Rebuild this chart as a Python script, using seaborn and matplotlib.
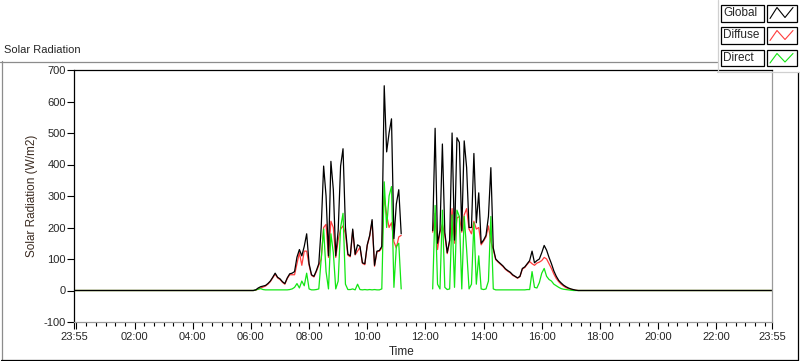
import numpy as np
import pandas as pd
import matplotlib.pyplot as plt
import seaborn as sns
from matplotlib.lines import Line2D
from matplotlib.patches import Rectangle

# samples every 5 min: morning block 06:00-11:10, afternoon block 12:15-17:15
am_start = 6.0
pm_start = 12.25
step_h = 5 / 60

global_am = [0, 0, 2, 8, 12, 14, 16, 22, 30, 42, 55, 42,
             37, 28, 22, 40, 53, 55, 60, 106, 130, 110, 140, 180,
             85, 50, 45, 63, 85, 200, 395, 300, 110, 410, 320, 110,
             190, 395, 450, 200, 115, 110, 195, 115, 145, 140, 88, 85,
             145, 175, 225, 80, 125, 127, 140, 650, 440, 500, 545, 165,
             275, 320, 180]
diffuse_am = [0, 0, 1, 5, 8, 11, 14, 20, 28, 40, 52, 40,
              35, 26, 20, 38, 50, 50, 50, 85, 120, 80, 125, 125,
              80, 48, 43, 60, 80, 100, 200, 210, 105, 220, 200, 105,
              160, 195, 205, 180, 112, 107, 190, 113, 125, 137, 86, 82,
              143, 172, 220, 77, 123, 125, 135, 300, 240, 200, 215, 155,
              135, 170, 175]
direct_am = [0, 0, 2, 4, 6, 3, 2, 2, 2, 2, 2, 2,
             2, 2, 2, 2, 3, 5, 10, 22, 8, 30, 15, 55,
             5, 2, 2, 3, 5, 100, 195, 60, 5, 180, 120, 5,
             30, 200, 245, 20, 3, 3, 5, 2, 20, 3, 2, 3,
             2, 3, 2, 3, 2, 2, 5, 345, 200, 300, 330, 10,
             140, 150, 5]

global_pm = [190, 515, 150, 190, 465, 185, 120, 160, 500,
             160, 485, 470, 190, 475, 390, 200, 200, 435, 215, 310, 150,
             160, 175, 235, 390, 135, 100, 92, 85, 78, 69, 63, 58,
             50, 45, 40, 45, 70, 75, 85, 95, 125, 88, 95, 100,
             120, 143, 128, 105, 85, 62, 45, 32, 24, 17, 12, 8,
             5, 3, 1, 0]
diffuse_pm = [185, 245, 130, 185, 210, 175, 117, 155, 260,
              150, 230, 235, 185, 240, 260, 195, 180, 220, 195, 200, 145,
              157, 170, 205, 155, 130, 98, 90, 83, 76, 67, 61, 56,
              48, 44, 39, 44, 68, 73, 83, 92, 85, 80, 87, 90,
              95, 105, 100, 85, 70, 52, 38, 28, 20, 14, 9, 6,
              4, 2, 1, 0]
direct_pm = [5, 270, 20, 5, 255, 10, 3, 5, 240,
             10, 255, 235, 5, 235, 130, 5, 20, 215, 20, 110, 5,
             3, 5, 30, 235, 5, 2, 2, 2, 2, 2, 2, 2,
             2, 2, 2, 2, 2, 2, 3, 3, 60, 10, 8, 25,
             55, 70, 45, 35, 30, 20, 15, 10, 6, 4, 3, 2,
             1, 0, 0, 0]

series_names = ['Global', 'Diffuse', 'Direct']
series_colors = {'Global': '#000000', 'Diffuse': '#ff3c3c', 'Direct': '#12e612'}
tick_labels = ['23:55', '', '02:00', '04:00', '06:00', '08:00', '10:00', '12:00',
               '14:00', '16:00', '18:00', '20:00', '22:00', '23:55']

# build long table, day starts at 23:55 the previous evening
t0 = -5 / 60
t1 = 24 - 5 / 60
t_am = am_start + np.arange(len(global_am)) * step_h
t_pm = pm_start + np.arange(len(global_pm)) * step_h
blocks = {'Global': (global_am, global_pm),
          'Diffuse': (diffuse_am, diffuse_pm),
          'Direct': (direct_am, direct_pm)}
frames = []
for name, (am, pm) in blocks.items():
    a = pd.DataFrame({'time': np.r_[t0, t_am], 'value': np.r_[0, am], 'seg': 0})
    b = pd.DataFrame({'time': np.r_[t_pm, t1], 'value': np.r_[pm, 0], 'seg': 1})
    d = pd.concat([a, b])
    d['series'] = name
    frames.append(d)
df = pd.concat(frames, ignore_index=True)

sns.set_style('white')
plt.rcParams['font.family'] = ['Liberation Sans', 'DejaVu Sans']
plt.rcParams['axes.unicode_minus'] = False

W, H = 800, 361
fig = plt.figure(figsize=(W / 100, H / 100), dpi=100)
ax = fig.add_axes([74 / W, 1 - 322 / H, (772 - 74) / W, (322 - 70) / H])

for name in ['Diffuse', 'Direct', 'Global']:
    sns.lineplot(data=df[df['series'] == name], x='time', y='value', units='seg',
                 estimator=None, sort=False, color=series_colors[name], lw=0.9,
                 ax=ax, legend=False)

ax.set_xlim(t0, t1)
ax.set_ylim(-100, 700)
ax.set_yticks(range(-100, 701, 100))
ax.set_xticks([t0, 0] + list(range(2, 23, 2)) + [t1])
ax.set_xticklabels(tick_labels)
ax.set_xticks(np.arange(0, 24, 1 / 3), minor=True)
ax.tick_params(axis='both', which='major', direction='out', length=5, width=0.8,
               labelsize=8, color='#000000', pad=2)
ax.tick_params(axis='x', which='minor', direction='out', length=3, width=0.8, color='#000000')
ax.tick_params(axis='y', pad=1)
ax.tick_params(axis='x', which='both', bottom=True)
ax.tick_params(axis='y', which='both', left=True)
ax.set_xlabel('Time', fontsize=8.5)
ax.set_ylabel('Solar Radiation (W/m2)', fontsize=8.5, color='#3a2a20', labelpad=4)
ax.xaxis.set_label_coords(0.47, -0.095)
for side in ['top', 'left']:
    ax.spines[side].set_color('#000000')
for side in ['right', 'bottom']:
    ax.spines[side].set_color('#9a9a9a')
for s in ax.spines.values():
    s.set_linewidth(0.9)


def px(x, y):
    return x / W, 1 - y / H


def fline(xs, ys, color, lw=0.9):
    pts = [px(x, y) for x, y in zip(xs, ys)]
    fig.add_artist(Line2D([p[0] for p in pts], [p[1] for p in pts],
                          transform=fig.transFigure, color=color, lw=lw))


# outer panel frame
fline([0, 717], [61.5, 61.5], '#8c8c8c')
fline([1.5, 1.5], [61, 360], '#8c8c8c')
fline([1, 798], [359.5, 359.5], '#000000')
fline([797.5, 797.5], [72, 360], '#000000')
fig.text(*px(4, 50), 'Solar Radiation', fontsize=8, va='center', ha='left')

# legend panel
fline([717.5, 717.5], [0, 72], '#d0d0d0')
fline([717, 800], [71.5, 71.5], '#d0d0d0')
rows = [(4.5, 21.5), (27.5, 43.5), (50.5, 66)]
for name, (ya, yb) in zip(series_names, rows):
    x0, y0 = px(720.5, yb)
    fig.add_artist(Rectangle((x0, y0), 43 / W, (yb - ya) / H, transform=fig.transFigure,
                             fill=False, ec='#000000', lw=0.9))
    fig.text(*px(723, (ya + yb) / 2), name, fontsize=8.5, va='center', ha='left')
    x1, y1 = px(766.5, yb)
    fig.add_artist(Rectangle((x1, y1), 30 / W, (yb - ya) / H, transform=fig.transFigure,
                             fill=False, ec='#000000', lw=0.9))
    fline([770, 777, 785, 793], [yb - 3, ya + 3, yb - 4, ya + 3], series_colors[name], lw=0.8)

fig.savefig('out.png', dpi=100)
